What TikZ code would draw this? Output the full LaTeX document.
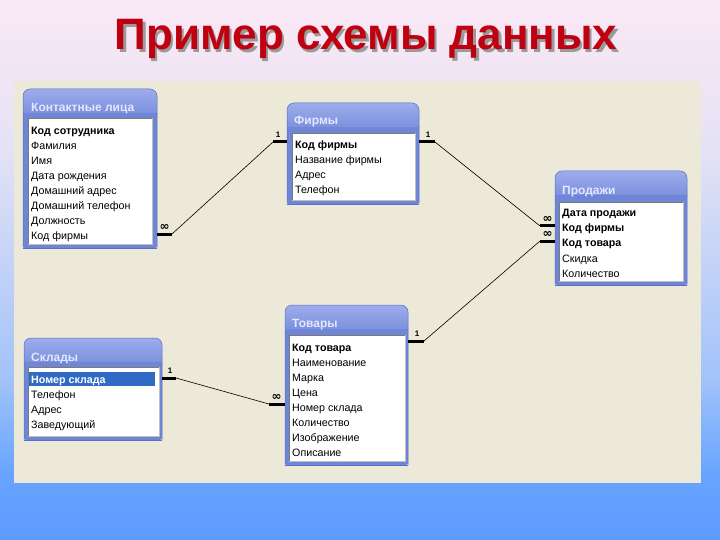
\documentclass[tikz,border=0pt]{standalone}
\usepackage{fontspec}
\setmainfont{Liberation Sans}
\newfontfamily\symfont{DejaVu Sans}
\definecolor{bgtop}{HTML}{FBE8F5}
\definecolor{bgmid}{HTML}{E4E2F5}
\definecolor{bgmid2}{HTML}{A2C3FA}
\definecolor{bglow}{HTML}{67A4FF}
\definecolor{bgbot}{HTML}{5E9BFF}
\definecolor{panel}{HTML}{ECE9D8}
\definecolor{boxblue}{HTML}{6F85D6}
\definecolor{boxtop}{HTML}{9DACEC}
\definecolor{boxedge}{HTML}{5A6FC4}
\definecolor{ttltext}{HTML}{E2E8FF}
\definecolor{listedge}{HTML}{7A7A7A}
\definecolor{selblue}{HTML}{316AC5}
\definecolor{titlered}{HTML}{BE0010}
\definecolor{shadowgray}{HTML}{9A9A9A}
\pgfdeclareverticalshading{bgshade}{100bp}{color(0bp)=(bgbot); color(25bp)=(bgbot); color(31bp)=(bglow); color(40bp)=(bgmid2); color(61bp)=(bgmid); color(75bp)=(bgtop); color(100bp)=(bgtop)}
\tikzset{
  rowtxt/.style={anchor=base west, inner sep=0, font=\fontsize{10.7}{12}\selectfont, text=black},
  keytxt/.style={rowtxt, font=\fontsize{10.7}{12}\selectfont\bfseries},
  boxttl/.style={anchor=base west, inner sep=0, font=\fontsize{12}{14}\selectfont\bfseries, text=ttltext},
  relbar/.style={line width=3pt, black},
  relline/.style={line width=0.6pt, black},
  onelbl/.style={inner sep=0, font=\fontsize{8}{8}\selectfont\bfseries},
  manylbl/.style={inner sep=0, font=\symfont\fontsize{12}{12}\selectfont\bfseries},
}
% table box: name, x1, y1, x2, y2
\newcommand{\tblbox}[5]{%
  \fill[boxblue, rounded corners=2pt] (#2,#3+20) -- (#2,#5) -- (#4,#5) -- (#4,#3+20) -- cycle;
  \shade[top color=boxtop, bottom color=boxblue, rounded corners=7pt] (#2,#3) rectangle (#4,#3+34);
  \fill[boxblue] (#2,#3+24) rectangle (#4,#3+34);
  \draw[boxedge, line width=0.5pt, rounded corners=7pt] (#2,#5) -- (#2,#3) -- (#4,#3) -- (#4,#5);
  \draw[boxedge, line width=0.5pt] (#2,#5) -- (#4,#5);
  \coordinate (#1-nw) at (#2,#3);
  \coordinate (#1-se) at (#4,#5);
}
\newcommand{\tbllist}[4]{%
  \fill[white] (#1,#2) rectangle (#3,#4);
  \draw[listedge, line width=0.8pt] (#1,#4) -- (#1,#2) -- (#3,#2);
  \draw[gray!50, line width=0.6pt] (#3,#2) -- (#3,#4) -- (#1,#4);
}
\begin{document}
\begin{tikzpicture}[x=1pt, y=-1pt]
\useasboundingbox (0,0) rectangle (720,540);
\shade[shading=bgshade] (0,0) rectangle (720,540);
% title
\node[anchor=base, inner sep=0, font=\fontsize{44}{44}\selectfont\bfseries, text=shadowgray] (titleshadow) at (368.5,52.5) {Пример схемы данных};
\node[anchor=base, inner sep=0, font=\fontsize{44}{44}\selectfont\bfseries, text=titlered] (title) at (366,50) {Пример схемы данных};
% panel
\fill[panel] (14,81) rectangle (701,483);

% ---- Контактные лица
\tblbox{kl}{23}{89}{157}{248}
\node[boxttl] (klt) at (31,111.5) {Контактные лица};
\tbllist{28}{118}{152}{244}
\node[keytxt] (kl1) at (31,135) {Код сотрудника};
\node[rowtxt] (kl2) at (31,150) {Фамилия};
\node[rowtxt] (kl3) at (31,165) {Имя};
\node[rowtxt] (kl4) at (31,180) {Дата рождения};
\node[rowtxt] (kl5) at (31,195) {Домашний адрес};
\node[rowtxt] (kl6) at (31,210) {Домашний телефон};
\node[rowtxt] (kl7) at (31,225) {Должность};
\node[rowtxt] (kl8) at (31,240) {Код фирмы};

% ---- Фирмы
\tblbox{fi}{287}{103}{419}{204}
\node[boxttl] (fit) at (294,124.5) {Фирмы};
\tbllist{292}{133}{415}{200}
\node[keytxt] (fi1) at (295,149) {Код фирмы};
\node[rowtxt] (fi2) at (295,164) {Название фирмы};
\node[rowtxt] (fi3) at (295,179) {Адрес};
\node[rowtxt] (fi4) at (295,194) {Телефон};

% ---- Продажи
\tblbox{pr}{555}{171}{687}{285}
\node[boxttl] (prt) at (562,194.5) {Продажи};
\tbllist{559}{202}{683}{281}
\node[keytxt] (pr1) at (562,217) {Дата продажи};
\node[keytxt] (pr2) at (562,232) {Код фирмы};
\node[keytxt] (pr3) at (562,247) {Код товара};
\node[rowtxt] (pr4) at (562,262) {Скидка};
\node[rowtxt] (pr5) at (562,277) {Количество};

% ---- Склады
\tblbox{sk}{24}{338}{162}{440}
\node[boxttl] (skt) at (31,361.5) {Склады};
\tbllist{28}{367}{159}{436}
\fill[selblue] (29,372) rectangle (155,386);
\node[keytxt, text=white] (sk1) at (31,383) {Номер склада};
\node[rowtxt] (sk2) at (31,398) {Телефон};
\node[rowtxt] (sk3) at (31,413) {Адрес};
\node[rowtxt] (sk4) at (31,428) {Заведующий};

% ---- Товары
\tblbox{to}{285}{305}{408}{465}
\node[boxttl] (tot) at (292,327.5) {Товары};
\tbllist{289}{335}{405}{461}
\node[keytxt] (to1) at (292,351) {Код товара};
\node[rowtxt] (to2) at (292,366) {Наименование};
\node[rowtxt] (to3) at (292,381) {Марка};
\node[rowtxt] (to4) at (292,396) {Цена};
\node[rowtxt] (to5) at (292,411) {Номер склада};
\node[rowtxt] (to6) at (292,426) {Количество};
\node[rowtxt] (to7) at (292,441) {Изображение};
\node[rowtxt] (to8) at (292,456) {Описание};

% ---- relationship end points
\coordinate (r1a) at (157,234); \coordinate (r1b) at (172,234);
\coordinate (r1c) at (273,142); \coordinate (r1d) at (287,142);
\coordinate (r2a) at (419,142); \coordinate (r2b) at (435,142);
\coordinate (r2c) at (540,226); \coordinate (r2d) at (555,226);
\coordinate (r3a) at (408,341); \coordinate (r3b) at (424,341);
\coordinate (r3c) at (540,241); \coordinate (r3d) at (555,241);
\coordinate (r4a) at (162,378); \coordinate (r4b) at (176,378);
\coordinate (r4c) at (269,404); \coordinate (r4d) at (285,404);

% Контактные лица - Фирмы
\draw[relbar] (r1a) -- (r1b);
\draw[relline] (r1b) -- (r1c);
\draw[relbar] (r1c) -- (r1d);
\node[manylbl] (m1) at (164.5,227) {∞};
\node[onelbl] (o1) at (278,135) {1};
% Фирмы - Продажи
\draw[relbar] (r2a) -- (r2b);
\draw[relline] (r2b) -- (r2c);
\draw[relbar] (r2c) -- (r2d);
\node[onelbl] (o2) at (428,135) {1};
\node[manylbl] (m2) at (547.5,219) {∞};
% Товары - Продажи
\draw[relbar] (r3a) -- (r3b);
\draw[relline] (r3b) -- (r3c);
\draw[relbar] (r3c) -- (r3d);
\node[onelbl] (o3) at (417,334) {1};
\node[manylbl] (m3) at (547.5,234) {∞};
% Склады - Товары
\draw[relbar] (r4a) -- (r4b);
\draw[relline] (r4b) -- (r4c);
\draw[relbar] (r4c) -- (r4d);
\node[onelbl] (o4) at (170,371) {1};
\node[manylbl] (m4) at (276.5,397) {∞};
\end{tikzpicture}
\end{document}
